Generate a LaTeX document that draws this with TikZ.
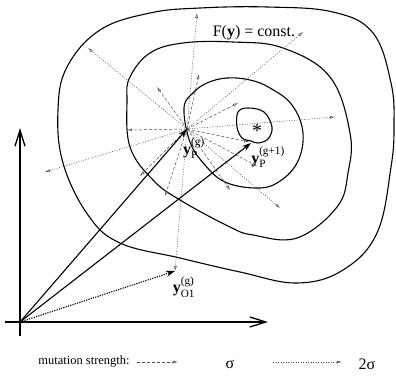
\documentclass[tikz,border=0pt]{standalone}
\usepackage{amsmath}
\usepackage{fontspec}
\setmainfont{Liberation Serif}
\usetikzlibrary{arrows.meta, positioning}

\newcommand{\yvec}[2]{$\text{\textbf{y}}_{\text{#1}}^{\text{#2}}$}

\tikzset{
  contour/.style={line width=1.1pt},
  axis/.style={line width=1.3pt, -{Straight Barb[length=16pt,width=10pt]}},
  vec/.style={line width=1.1pt, -{Stealth[length=9pt,width=6pt]}},
  sig/.style={black!70, line width=0.5pt, dash pattern=on 3pt off 2pt,
    -{Latex[open,length=5pt,width=3pt]}},
  twosig/.style={black!70, line width=0.5pt, dash pattern=on 1pt off 1.5pt,
    -{Latex[open,length=5pt,width=3pt]}},
  lbl/.style={inner sep=0pt, font=\fontsize{16}{18}\selectfont},
}

\begin{document}
\begin{tikzpicture}[x=1pt, y=-1pt]
\useasboundingbox (0,0) rectangle (396,375);

% key points
\coordinate (O) at (20,322);
\coordinate (P) at (187,129);
\coordinate (Pn) at (251,143);
\coordinate (O1) at (175,271);

% --- contour lines F(y) = const ---
\draw[contour] plot[smooth cycle, tension=0.65] coordinates {
  (58,110) (67,67) (100,30) (150,13) (200,8) (267,7) (333,12) (373,33)
  (391,83) (394,125) (391,167) (377,233) (343,270) (297,283) (240,272)
  (180,258) (120,243) (88,215) (63,163)};
\draw[contour] plot[smooth cycle, tension=0.65] coordinates {
  (130,77) (150,53) (183,43) (233,42) (283,48) (330,77) (350,133)
  (348,173) (337,207) (297,238) (253,235) (230,227) (180,200) (153,180)
  (130,147) (127,100)};
\draw[contour] plot[smooth cycle, tension=0.65] coordinates {
  (184,108) (193,93) (207,83) (227,78) (250,80) (270,88) (292,105)
  (303,133) (297,163) (277,183) (255,188) (225,182) (205,165) (190,142)};
\draw[contour] plot[smooth cycle, tension=0.6] coordinates {
  (238,112) (248,108) (264,112) (272,127) (268,139) (258,143) (251,141)
  (242,138) (237,127)};

% optimum
\node[inner sep=0pt, font=\fontsize{20}{22}\selectfont] (opt) at (257,131) {*};
\node[lbl] (fcon) at (254,33) {F(\textbf{y}) = const.};

% --- mutations with strength sigma ---
\foreach \x/\y [count=\i] in {199/74, 157/87, 238/103, 127/130, 140/176,
    165/196, 230/190, 257/166, 249/142}{
  \coordinate (s\i) at (\x,\y);
  \draw[sig] (P) -- (s\i);
}

% --- mutations with strength 2 sigma ---
\foreach \x/\y [count=\i] in {197/13, 88/48, 303/32, 335/117, 280/208, 45/172}{
  \coordinate (t\i) at (\x,\y);
  \draw[twosig] (P) -- (t\i);
}
\draw[twosig] (P) -- (O1);

% --- axes ---
\coordinate (xl) at (5,322);
\coordinate (xr) at (268,322);
\coordinate (yb) at (20,336);
\coordinate (yt) at (20,128);
\draw[axis] (xl) -- (xr);
\draw[axis] (yb) -- (yt);

% --- position vectors ---
\draw[vec] (O) -- (P);
\draw[vec] (O) -- (Pn);
\draw[vec, dash pattern=on 1.2pt off 1.2pt] (O) -- (O1);

% labels
\node[lbl] (lP) at (194,148) {\yvec{P}{(g)}};
\node[lbl] (lPn) at (268,157) {\yvec{P}{(g+1)}};
\node[lbl] (lO1) at (184,287) {\yvec{O1}{(g)}};

% --- legend ---
\node[font=\fontsize{12.5}{14}\selectfont, inner sep=0pt] (lgd) at (84,362) {mutation strength:};
\coordinate (a1) at (137,362);
\coordinate (a2) at (178,362);
\coordinate (b1) at (273,362);
\coordinate (b2) at (342,362);
\draw[sig] (a1) -- (a2);
\draw[twosig] (b1) -- (b2);
\node[lbl] (ls1) at (230,364) {σ};
\node[lbl] (ls2) at (367,364) {2σ};

\end{tikzpicture}
\end{document}
